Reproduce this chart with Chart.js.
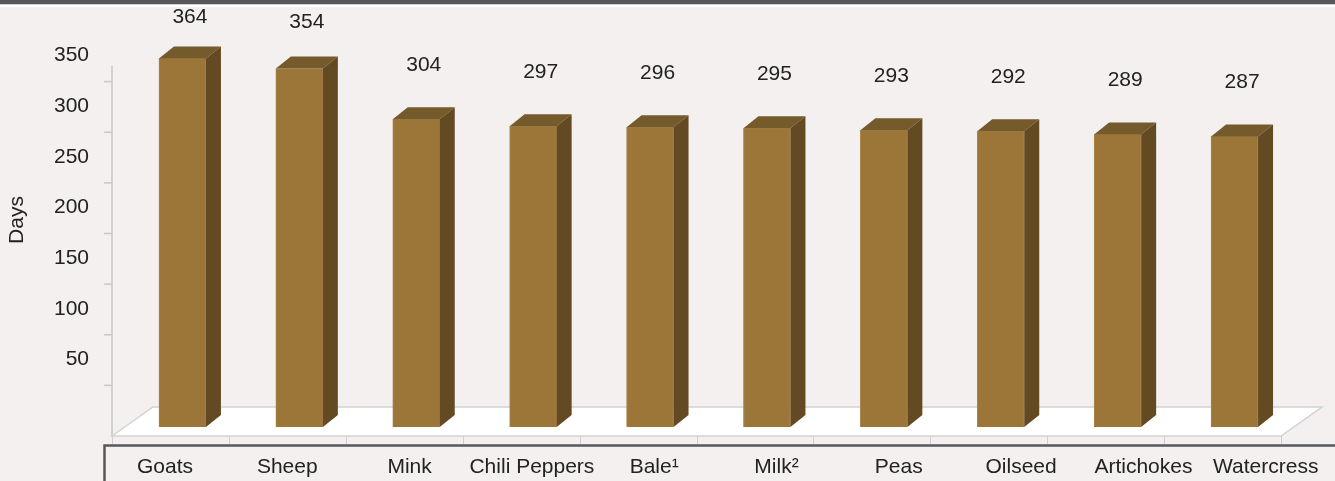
<!DOCTYPE html>
<html>
<head>
<meta charset="utf-8">
<script src="https://cdn.jsdelivr.net/npm/chart.js@4/dist/chart.umd.min.js"></script>
<style>
  body { margin: 0; background: #f3f0ef; }
  canvas { display: block; }
</style>
</head>
<body>
<canvas id="chart" width="1335" height="481"></canvas>
<script>
let categories = ["Goats", "Sheep", "Mink", "Chili Peppers", "Bale\u00b9", "Milk\u00b2", "Peas", "Oilseed", "Artichokes", "Watercress"];
let days = [364, 354, 304, 297, 296, 295, 293, 292, 289, 287];
let yTicks = [50, 100, 150, 200, 250, 300, 350];
let yTitle = "Days";

let font = "21px 'Liberation Sans', Arial, sans-serif";
let textColor = "#222222";
let depthX = 15, depthY = 12;      // bar depth
let floorX = 41, floorY = 29;      // floor depth

let backdrop = {
    id: "backdrop",
    beforeDraw(chart) {
        let ctx = chart.ctx;
        let y = chart.scales.y;
        let x = chart.scales.x;
        let base = y.getPixelForValue(0);
        let slot = (x.getPixelForValue(1) - x.getPixelForValue(0));
        let floorLeft = chart.chartArea.left - 12;
        let floorRight = floorLeft + slot * categories.length;
        let floorFront = base + 9;

        ctx.save();
        ctx.fillStyle = "#f3f0ef";
        ctx.fillRect(0, 0, chart.width, chart.height);
        ctx.fillStyle = "#58575c";
        ctx.fillRect(0, 0, chart.width, 4.5);
        ctx.fillStyle = "#ffffff";
        ctx.fillRect(0, 4.5, chart.width, 2.5);

        // floor
        ctx.beginPath();
        ctx.moveTo(floorLeft, floorFront);
        ctx.lineTo(floorLeft + floorX, floorFront - floorY);
        ctx.lineTo(floorRight + floorX, floorFront - floorY);
        ctx.lineTo(floorRight, floorFront);
        ctx.closePath();
        ctx.fillStyle = "#ffffff";
        ctx.fill();
        ctx.strokeStyle = "#d2d2d2";
        ctx.lineWidth = 1.5;
        ctx.stroke();

        // category dividers under the floor
        ctx.strokeStyle = "#cfcfcf";
        ctx.lineWidth = 1;
        for (var i = 0; i <= categories.length; i++) {
            let px = Math.round(floorLeft + i * slot) + 0.5;
            ctx.beginPath();
            ctx.moveTo(px, floorFront);
            ctx.lineTo(px, floorFront + 8);
            ctx.stroke();
        }

        // value axis
        ctx.strokeStyle = "#c8c8c8";
        ctx.lineWidth = 1.5;
        ctx.beginPath();
        ctx.moveTo(floorLeft, floorFront);
        ctx.lineTo(floorLeft, y.getPixelForValue(366) + 9);
        ctx.stroke();
        ctx.fillStyle = textColor;
        ctx.font = font;
        ctx.textAlign = "right";
        ctx.textBaseline = "middle";
        yTicks.forEach(v => {
            let py = y.getPixelForValue(v);
            ctx.beginPath();
            ctx.moveTo(floorLeft - 8, py + 9);
            ctx.lineTo(floorLeft, py + 9);
            ctx.stroke();
            ctx.fillText(String(v), 89, py - 17);
        });

        ctx.save();
        ctx.translate(17, 220);
        ctx.rotate(-Math.PI / 2);
        ctx.textAlign = "center";
        ctx.fillText(yTitle, 0, 0);
        ctx.restore();

        // label box
        ctx.strokeStyle = "#58575c";
        ctx.lineWidth = 2.5;
        ctx.beginPath();
        ctx.moveTo(104.5, chart.height + 5);
        ctx.lineTo(104.5, 445.5);
        ctx.lineTo(chart.width + 5, 445.5);
        ctx.stroke();

        ctx.fillStyle = textColor;
        ctx.textAlign = "center";
        categories.forEach((c, i) => {
            ctx.fillText(c, 165 + i * 122.3, 467);
        });
        ctx.restore();
    },
    afterDatasetsDraw(chart) {
        let ctx = chart.ctx;
        let meta = chart.getDatasetMeta(0);
        ctx.save();
        meta.data.forEach((bar, i) => {
            let l = bar.x - bar.width / 2;
            let r = bar.x + bar.width / 2;
            let t = bar.y;
            let b = bar.base;
            // top face
            ctx.fillStyle = "#755a2b";
            ctx.beginPath();
            ctx.moveTo(l, t);
            ctx.lineTo(l + depthX, t - depthY);
            ctx.lineTo(r + depthX, t - depthY);
            ctx.lineTo(r, t);
            ctx.closePath();
            ctx.fill();
            // side face
            ctx.fillStyle = "#634a23";
            ctx.beginPath();
            ctx.moveTo(r, t);
            ctx.lineTo(r + depthX, t - depthY);
            ctx.lineTo(r + depthX, b - depthY);
            ctx.lineTo(r, b);
            ctx.closePath();
            ctx.fill();

            // value label
            let ly = t - depthY - 42;
            if (ly < 30) ly = 30 - (30 - ly) * 0.5;
            ctx.fillStyle = textColor;
            ctx.font = font;
            ctx.textAlign = "center";
            ctx.textBaseline = "middle";
            ctx.fillText(String(days[i]), bar.x + depthX / 2, ly);
        });
        ctx.restore();
    }
};

new Chart(document.getElementById("chart"), {
    type: "bar",
    data: {
        labels: categories,
        datasets: [{
            label: yTitle,
            data: days,
            backgroundColor: "#9b7638",
            borderColor: "#a9844a",
            borderWidth: 1,
            borderSkipped: "bottom",
            barThickness: 47
        }]
    },
    options: {
        responsive: false,
        animation: false,
        layout: { padding: { left: 124, right: 42, top: 22, bottom: 54 } },
        plugins: {
            legend: { display: false },
            tooltip: { enabled: false }
        },
        scales: {
            x: { display: false, offset: true, grid: { display: false } },
            y: { display: false, min: 0, max: 400, grid: { display: false } }
        }
    },
    plugins: [backdrop]
});
</script>
</body>
</html>
